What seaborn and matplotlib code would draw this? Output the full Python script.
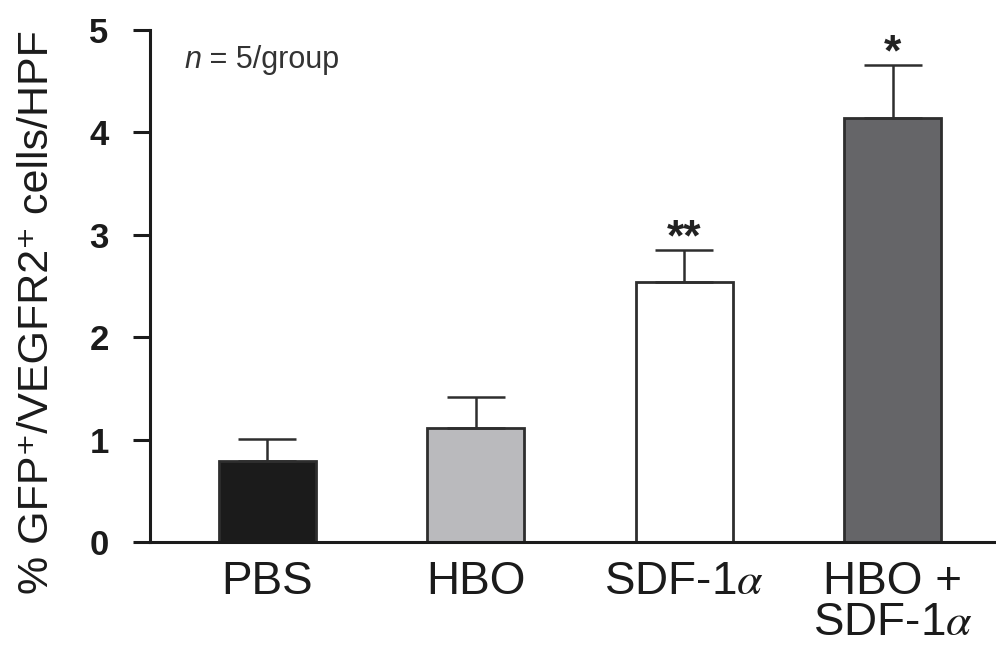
import matplotlib
matplotlib.use("Agg")
import matplotlib.pyplot as plt
import seaborn as sns
import pandas as pd

# values
groups = ["PBS", "HBO", "SDF-1$\\alpha$", "HBO +\nSDF-1$\\alpha$"]
means = [0.79, 1.11, 2.54, 4.14]
sem = [0.22, 0.31, 0.31, 0.52]
stars = ["", "", "**", "*"]
bar_colors = ["#1b1b1b", "#b9babd", "#ffffff", "#646569"]
yticks = [0, 1, 2, 3, 4, 5]

sns.set_style("ticks")
plt.rcParams["font.family"] = ["Liberation Sans", "DejaVu Sans"]
plt.rcParams["mathtext.fontset"] = "stix"

df = pd.DataFrame({"group": groups, "value": means})

fig = plt.figure(figsize=(9.96, 6.53), dpi=100)
ax = fig.add_axes([0.151, 0.170, 0.849, 0.784])

sns.barplot(
    data=df, x="group", y="value", hue="group",
    palette=dict(zip(groups, bar_colors)), legend=False,
    width=0.465, edgecolor="#2e2e2e", linewidth=2.0, ax=ax,
)

pos = list(range(len(groups)))
ax.errorbar(
    pos, means, yerr=[[0] * len(sem), sem], fmt="none",
    ecolor="#2e2e2e", elinewidth=1.8, capsize=21, capthick=1.8, zorder=1,
)

for x, m, e, s in zip(pos, means, sem, stars):
    if s:
        ax.annotate(s, (x, m + e), xytext=(0, -7), textcoords="offset points",
                    ha="center", va="bottom", fontsize=32, fontweight="bold",
                    color="#222222")

ax.set_xlim(-0.561, 3.496)
ax.set_ylim(0, 5)
ax.set_yticks(yticks)
ax.set_yticklabels([str(t) for t in yticks], fontsize=25, fontweight="bold")
ax.tick_params(axis="y", length=12, width=2.2, pad=18, colors="#1b1b1b")
ax.tick_params(axis="x", length=0, pad=13, labelsize=33, labelcolor="#1b1b1b")
for lab in ax.get_xticklabels():
    lab.set_linespacing(0.92)

ax.set_xlabel("")
ax.set_ylabel("% GFP\u207A/VEGFR2\u207A cells/HPF", fontsize=31, color="#1b1b1b")
ax.yaxis.set_label_coords(-0.11, 0.45)

sns.despine(ax=ax)
for side in ["left", "bottom"]:
    ax.spines[side].set_linewidth(2.2)
    ax.spines[side].set_color("#1b1b1b")

t = ax.text(0.04, 0.925, "n", transform=ax.transAxes, fontsize=22,
            fontstyle="italic", color="#333333", va="baseline")
ax.annotate(" = 5/group", xy=(1, 0), xycoords=t, va="bottom", fontsize=22,
            color="#333333")

fig.savefig("out.png", dpi=100)
